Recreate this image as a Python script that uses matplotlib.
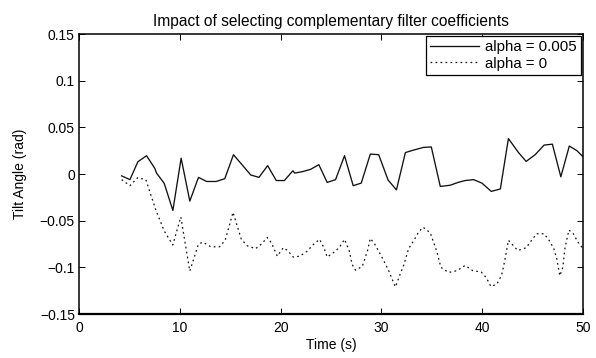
import matplotlib
matplotlib.use("Agg")
import matplotlib.pyplot as plt

# alpha = 0.005 (solid)
t_a = [4.23, 5.05, 5.84, 6.70, 7.52, 7.69, 8.45, 9.31, 10.13, 10.99, 11.85, 12.67,
       13.59, 14.46, 15.32, 16.17, 17.03, 17.85, 18.71, 19.57, 20.37, 21.22, 21.39,
       22.15, 22.97, 23.79, 24.62, 25.45, 26.34, 27.2, 28.0, 28.9, 29.73, 30.66,
       31.49, 32.38, 33.2, 34.16, 34.95, 35.84, 36.83, 37.6, 38.3, 39.14, 39.97,
       40.9, 41.8, 42.6, 43.6, 44.36, 45.25, 46.14, 46.96, 47.8, 48.64, 49.4, 50.0]
v_a = [-0.002, -0.006, 0.0132, 0.0196, 0.006, 0.001, -0.010, -0.039, 0.017, -0.029,
       -0.0036, -0.008, -0.008, -0.005, 0.0207, 0.010, -0.001, -0.0036, 0.009, -0.007,
       -0.007, 0.0035, 0.001, 0.0025, 0.005, 0.010, -0.009, -0.006, 0.0196, -0.0125,
       -0.0097, 0.0214, 0.0207, -0.0064, -0.017, 0.023, 0.0257, 0.0285, 0.029, -0.0133,
       -0.012, -0.009, -0.007, -0.006, -0.0097, -0.0186, -0.016, 0.038, 0.023, 0.0135,
       0.0207, 0.031, 0.032, -0.003, 0.030, 0.025, 0.0185]

# alpha = 0 (dotted)
t_b = [4.23, 5.05, 5.81, 6.63, 7.6, 8.45, 9.3, 10.1, 10.99, 11.85, 12.3, 13.07, 13.93,
       14.5, 15.28, 16.1, 16.7, 17.52, 18.1, 18.68, 19.1, 19.67, 20.26, 20.7, 21.25,
       21.9, 22.6, 23.3, 23.86, 24.3, 24.62, 25.28, 25.8, 26.34, 26.8, 27.1, 27.42,
       28.1, 28.6, 28.9, 29.33, 29.9, 30.66, 31.0, 31.39, 31.8, 32.2, 32.7, 33.2,
       33.7, 34.13, 34.85, 35.2, 35.5, 35.9, 36.66, 37.5, 38.3, 39.08, 39.9, 40.4,
       40.86, 41.45, 41.9, 42.1, 42.3, 42.6, 42.94, 43.53, 44.36, 44.9, 45.4, 46.14,
       46.67, 47.1, 47.4, 47.7, 48.0, 48.2, 48.6, 49.04, 49.5, 50.0]
v_b = [-0.006, -0.0125, -0.004, -0.006, -0.038, -0.061, -0.076, -0.046, -0.104, -0.075,
       -0.073, -0.078, -0.078, -0.071, -0.041, -0.070, -0.077, -0.080, -0.075, -0.068,
       -0.074, -0.088, -0.079, -0.082, -0.089, -0.088, -0.083, -0.075, -0.070, -0.079,
       -0.089, -0.084, -0.079, -0.070, -0.082, -0.097, -0.103, -0.099, -0.083, -0.069,
       -0.075, -0.086, -0.102, -0.111, -0.121, -0.109, -0.098, -0.080, -0.0715, -0.062,
       -0.057, -0.063, -0.074, -0.083, -0.100, -0.1055, -0.1036, -0.098, -0.1036,
       -0.105, -0.111, -0.1205, -0.118, -0.109, -0.100, -0.089, -0.071, -0.075, -0.082,
       -0.079, -0.071, -0.064, -0.064, -0.0715, -0.080, -0.091, -0.109, -0.100, -0.080,
       -0.060, -0.064, -0.073, -0.080]

labels = ["alpha = 0.005", "alpha = 0"]
x_ticks = [0, 10, 20, 30, 40, 50]
y_ticks = [-0.15, -0.1, -0.05, 0, 0.05, 0.1, 0.15]
y_ticklabels = ["\u22120.15", "\u22120.1", "\u22120.05", "0", "0.05", "0.1", "0.15"]

plt.rcParams["font.family"] = ["Liberation Sans", "DejaVu Sans"]
plt.rcParams["font.size"] = 10

fig = plt.figure(figsize=(5.96, 3.58), dpi=100)
ax = fig.add_axes([0.1326, 0.1229, 0.8456, 0.782])

ax.plot(t_a, v_a, color="#111111", lw=0.95, label=labels[0])
ax.plot(t_b, v_b, color="#111111", lw=0.9, ls=(0, (1.4, 2.6)), label=labels[1])

ax.set_xlim(0, 50)
ax.set_ylim(-0.15, 0.15)
ax.set_xticks(x_ticks)
ax.set_yticks(y_ticks)
ax.set_yticklabels(y_ticklabels)
ax.tick_params(direction="in", length=4, width=0.7, top=True, right=True)
ax.tick_params(axis="x", pad=5)
ax.tick_params(axis="y", pad=3)
for s in ax.spines.values():
    s.set_linewidth(1.1)
ax.spines["bottom"].set_linewidth(1.6)

ax.set_xlabel("Time (s)", labelpad=2)
ax.set_ylabel("Tilt Angle (rad)", labelpad=9)
ax.set_title("Impact of selecting complementary filter coefficients", fontsize=11.2, pad=6)

leg = ax.legend(loc="upper right", fancybox=False, framealpha=1, edgecolor="black",
                fontsize=10.8, handlelength=3.3, handletextpad=0.4, borderaxespad=0.12,
                labelspacing=0.18, borderpad=0.28)
leg.get_frame().set_linewidth(0.9)

fig.savefig("out.png", dpi=100)
